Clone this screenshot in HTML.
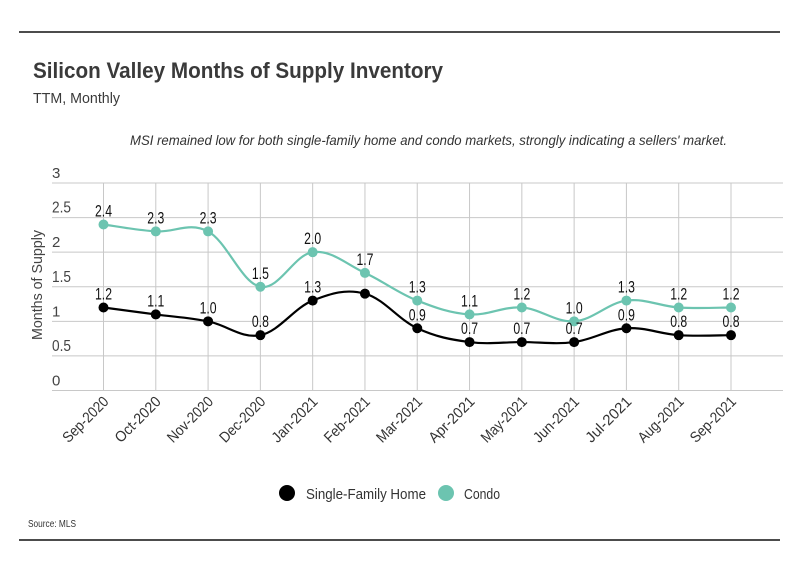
<!DOCTYPE html>
<html><head><meta charset="utf-8"><style>
body{margin:0;background:#fff;width:799px;height:575px;overflow:hidden;font-family:"Liberation Sans",sans-serif;}
svg text{font-family:"Liberation Sans",sans-serif;}
</style></head><body>
<svg id="c" width="799" height="575">
<line x1="19" y1="32" x2="780" y2="32" stroke="#111" stroke-width="1.5"/>
<line x1="19" y1="540" x2="780" y2="540" stroke="#111" stroke-width="1.5"/>
<text x="33" y="78" font-size="22" font-weight="bold" fill="#3a3a3a" textLength="410" lengthAdjust="spacingAndGlyphs">Silicon Valley Months of Supply Inventory</text>
<text x="33" y="103" font-size="15" fill="#3a3a3a" textLength="87" lengthAdjust="spacingAndGlyphs">TTM, Monthly</text>
<text x="130" y="145" font-size="14" font-style="italic" fill="#333" textLength="597" lengthAdjust="spacingAndGlyphs">MSI remained low for both single-family home and condo markets, strongly indicating a sellers' market.</text>
<text x="-340" y="42" font-size="15" fill="#444" transform="rotate(-90)" textLength="110" lengthAdjust="spacingAndGlyphs">Months of Supply</text>
<g id="grid"></g><g id="lines"></g><g id="pts"></g>
<circle cx="287" cy="493" r="8" fill="#000"/>
<text x="306" y="499" font-size="15" fill="#333" textLength="120" lengthAdjust="spacingAndGlyphs">Single-Family Home</text>
<circle cx="446" cy="493" r="8" fill="#6cc4b0"/>
<text x="464" y="499" font-size="15" fill="#333" textLength="36" lengthAdjust="spacingAndGlyphs">Condo</text>
<text x="28" y="527" font-size="10" fill="#333" textLength="48" lengthAdjust="spacingAndGlyphs">Source:  MLS</text>
</svg>
<script>
const categories=["Sep-2020","Oct-2020","Nov-2020","Dec-2020","Jan-2021","Feb-2021","Mar-2021","Apr-2021","May-2021","Jun-2021","Jul-2021","Aug-2021","Sep-2021"];
const sfhValues=[1.2,1.1,1.0,0.8,1.3,1.4,0.9,0.7,0.7,0.7,0.9,0.8,0.8];
const sfhShowLabel=[1,1,1,1,1,0,1,1,1,1,1,1,1];
const condoValues=[2.4,2.3,2.3,1.5,2.0,1.7,1.3,1.1,1.2,1.0,1.3,1.2,1.2];
const yTicks=[0,0.5,1,1.5,2,2.5,3];
const yTickLabels=["0","0.5","1","1.5","2","2.5","3"];
const NS="http://www.w3.org/2000/svg";
const x0=103.5,x1=731,yb=390.5,yt=183,ymax=3;
const X=i=>x0+(x1-x0)*i/(categories.length-1);
const Y=v=>yb-(yb-yt)*v/ymax;
function mk(t,a,p){const e=document.createElementNS(NS,t);for(const k in a)e.setAttribute(k,a[k]);p.appendChild(e);return e;}
const g=document.getElementById('grid'),L=document.getElementById('lines'),P=document.getElementById('pts');
yTicks.forEach((v,i)=>{
 const l=mk('line',{x1:52,x2:783,y1:Y(v),y2:Y(v),stroke:'#c8c8c8','stroke-width':1},g);
 
 
 const s=yTickLabels[i];
 const a={x:52,y:Y(v)-5,'font-size':16,fill:'#444'};
 if(s.length>1){a.textLength=19;a.lengthAdjust='spacingAndGlyphs';}else{a['font-size']=15;}
 const t=mk('text',a,g);t.textContent=s;
 
 
});
categories.forEach((c,i)=>{
 const l=mk('line',{x1:X(i),x2:X(i),y1:yt,y2:yb,stroke:'#c8c8c8','stroke-width':1},g);
 
 
 const t=mk('text',{x:X(i)+6,y:yb+12,'font-size':15,fill:'#333','text-anchor':'end',textLength:58,lengthAdjust:'spacingAndGlyphs',transform:`rotate(-45 ${X(i)+6} ${yb+12})`},g);t.textContent=c;
 
 
});
function path(vals){
 const p=vals.map((v,i)=>[X(i),Y(v)]);let d=`M${p[0][0]},${p[0][1]}`;
 for(let i=0;i<p.length-1;i++){
  const a=p[i-1]||p[i],b=p[i],c=p[i+1],e=p[i+2]||c;
  const k=0.18;
  const c1=[b[0]+(c[0]-a[0])*k,b[1]+(c[1]-a[1])*k],c2=[c[0]-(e[0]-b[0])*k,c[1]-(e[1]-b[1])*k];
  d+=`C${c1[0]},${c1[1]} ${c2[0]},${c2[1]} ${c[0]},${c[1]}`;
 }return d;}
function series(vals,color,name,show){
 const pa=mk('path',{d:path(vals),fill:'none',stroke:color,'stroke-width':2.2},L);
 
 
 vals.forEach((v,i)=>{
  const c=mk('circle',{cx:X(i),cy:Y(v),r:5,fill:color},P);
  
  
  if(!show||show[i]){
   const t=mk('text',{x:X(i),y:Y(v)-8,'font-size':17,fill:'#111','text-anchor':'middle',textLength:17,lengthAdjust:'spacingAndGlyphs'},P);t.textContent=v.toFixed(1);
   
   
  }
 });
}
series(condoValues,'#6cc4b0','condo',null);
series(sfhValues,'#000','sfh',sfhShowLabel);
</script>
</body></html>
